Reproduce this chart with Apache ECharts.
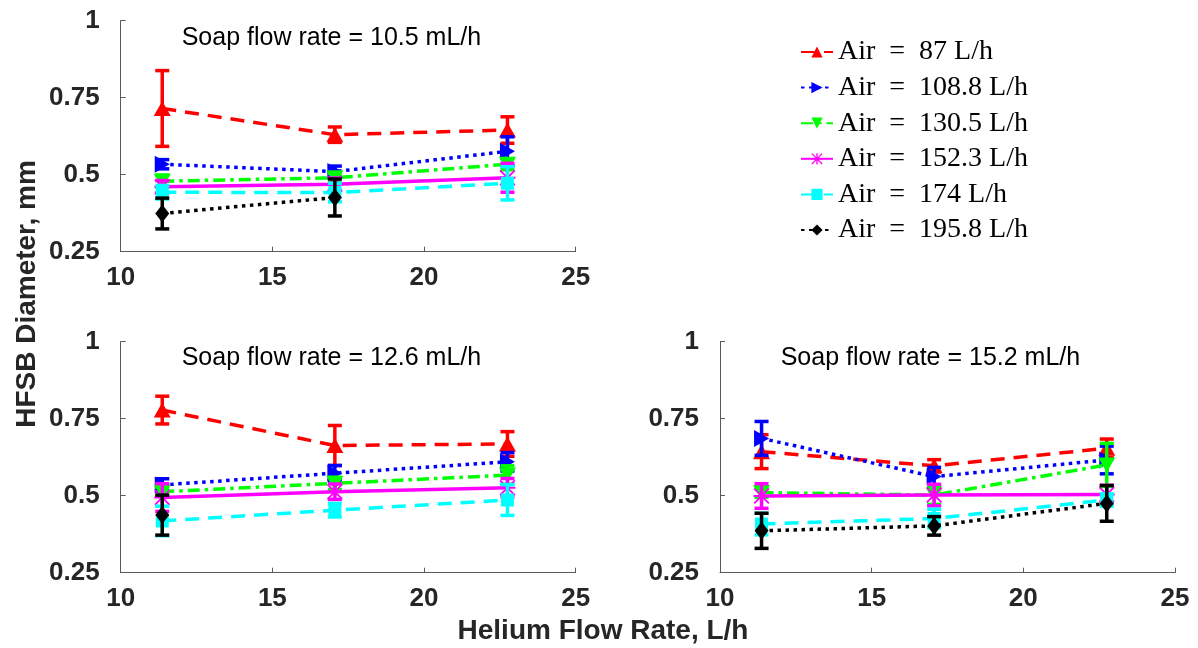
<!DOCTYPE html>
<html>
<head>
<meta charset="utf-8">
<script src="https://cdn.jsdelivr.net/npm/echarts@6/dist/echarts.min.js"></script>
<style>
  html, body { margin: 0; padding: 0; background: #fff; }
  #chart { width: 1198px; height: 648px; }
</style>
</head>
<body>
<div id="chart"></div>
<script>
// Helium flow rates (L/h) at which bubbles were measured
const helium = [11.37, 17.06, 22.75];

// Air flow rate of each series
const airRates = [
  'Air = 87 L/h',
  'Air = 108.8 L/h',
  'Air = 130.5 L/h',
  'Air = 152.3 L/h',
  'Air = 174 L/h',
  'Air = 195.8 L/h'
];

// One panel per soap flow rate
const soapRates = [
  'Soap flow rate = 10.5 mL/h',
  'Soap flow rate = 12.6 mL/h',
  'Soap flow rate = 15.2 mL/h'
];

// Mean HFSB diameter (mm), rows follow airRates, columns follow helium
const mean105 = [
  [0.715, 0.630, 0.645],
  [0.534, 0.510, 0.576],
  [0.479, 0.490, 0.534],
  [0.461, 0.469, 0.490],
  [0.443, 0.442, 0.472],
  [0.374, 0.426, null]
];
const err105 = [
  [0.123, 0.025, 0.043],
  [0.015, 0.018, 0.047],
  [0.020, 0.015, 0.018],
  [0.020, 0.020, 0.047],
  [0.022, 0.030, 0.054],
  [0.050, 0.060, null]
];

const mean126 = [
  [0.778, 0.663, 0.668],
  [0.535, 0.573, 0.610],
  [0.513, 0.540, 0.567],
  [0.494, 0.513, 0.526],
  [0.418, 0.453, 0.486],
  [0.437, null, null]
];
const err126 = [
  [0.045, 0.065, 0.040],
  [0.020, 0.025, 0.030],
  [0.015, 0.020, 0.030],
  [0.045, 0.025, 0.030],
  [0.048, 0.022, 0.050],
  [0.065, null, null]
];

const mean152 = [
  [0.643, 0.597, 0.654],
  [0.686, 0.562, 0.616],
  [0.510, 0.502, 0.600],
  [0.499, 0.502, 0.504],
  [0.408, 0.426, 0.486],
  [0.386, 0.402, 0.475]
];
const err152 = [
  [0.055, 0.020, 0.030],
  [0.055, 0.030, 0.045],
  [0.015, 0.030, 0.070],
  [0.040, 0.035, 0.030],
  [0.035, 0.030, 0.020],
  [0.057, 0.030, 0.058]
];

const panelMeans = [mean105, mean126, mean152];
const panelErrs = [err105, err126, err152];

// Axis ranges
const xMin = 10, xMax = 25, xStep = 5;
const yMin = 0.25, yMax = 1, yStep = 0.25;

// Marker and line style of each air flow rate
const asterisk = 'path://M4.4,0H5.6V10H4.4Z M0,4.4H10V5.6H0Z M0.8,0L10,9.2L9.2,10L0,0.8Z M9.2,0L10,0.8L0.8,10L0,9.2Z';
const looks = [
  { color: '#ff0000', symbol: 'triangle', rotate: 0,   size: [17, 15], dash: [14, 9] },
  { color: '#0000ff', symbol: 'triangle', rotate: -90, size: [17, 15], dash: [3.5, 4.5] },
  { color: '#00ff00', symbol: 'triangle', rotate: 180, size: [17, 15], dash: [12, 5, 3.5, 5] },
  { color: '#ff00ff', symbol: asterisk,   rotate: 0,   size: 16,       dash: 'solid' },
  { color: '#00ffff', symbol: 'rect',     rotate: 0,   size: 13,       dash: [14, 9] },
  { color: '#000000', symbol: 'diamond',  rotate: 0,   size: [14, 18], dash: [3.5, 4.5] }
];

const grids = [
  { left: 120.7, top: 20.7,  width: 455, height: 231 },
  { left: 120.7, top: 341.7, width: 455, height: 231 },
  { left: 720,   top: 341.7, width: 455, height: 231 }
];

const axisColor = '#5a5a5a';
const labelFont = { fontFamily: 'Liberation Sans', fontWeight: 'bold', fontSize: 26, color: '#262626' };

const xAxes = grids.map((g, i) => ({
  type: 'value', gridIndex: i, min: xMin, max: xMax, interval: xStep,
  axisLine: { show: true, lineStyle: { color: axisColor, width: 1 } },
  axisTick: { show: true, inside: true, length: 5, lineStyle: { color: axisColor } },
  axisLabel: Object.assign({ margin: 13 }, labelFont),
  splitLine: { show: false }
}));
const yAxes = grids.map((g, i) => ({
  type: 'value', gridIndex: i, min: yMin, max: yMax, interval: yStep,
  axisLine: { show: true, lineStyle: { color: axisColor, width: 1 } },
  axisTick: { show: true, inside: true, length: 5, lineStyle: { color: axisColor } },
  axisLabel: Object.assign({ margin: 21 }, labelFont),
  splitLine: { show: false }
}));

function errorBarItem(params, api) {
  const x = api.value(0);
  const top = api.coord([x, api.value(2)]);
  const bot = api.coord([x, api.value(1)]);
  const half = 7;
  const style = { stroke: api.visual('color'), lineWidth: 3.5, fill: null };
  return {
    type: 'group',
    children: [
      { type: 'line', shape: { x1: top[0], y1: top[1], x2: bot[0], y2: bot[1] }, style: style },
      { type: 'line', shape: { x1: top[0] - half, y1: top[1], x2: top[0] + half, y2: top[1] }, style: style },
      { type: 'line', shape: { x1: bot[0] - half, y1: bot[1], x2: bot[0] + half, y2: bot[1] }, style: style }
    ]
  };
}

const lineSeries = [];
const barSeries = [];
panelMeans.forEach((means, p) => {
  const errs = panelErrs[p];
  airRates.forEach((name, s) => {
    const look = looks[s];
    const pts = [];
    const bars = [];
    helium.forEach((x, k) => {
      const m = means[s][k];
      if (m == null) return;
      pts.push([x, m]);
      bars.push([x, m - errs[s][k], m + errs[s][k]]);
    });
    lineSeries.push({
      type: 'line', name: name, xAxisIndex: p, yAxisIndex: p,
      data: pts, z: 3 + s * 2,
      symbol: look.symbol, symbolSize: look.size, symbolRotate: look.rotate,
      showAllSymbol: true,
      itemStyle: { color: look.color, opacity: 1 },
      lineStyle: { color: look.color, width: 3.5, type: look.dash },
      emphasis: { disabled: true },
      animation: false
    });
    barSeries.push({
      type: 'custom', name: name, xAxisIndex: p, yAxisIndex: p,
      data: bars, z: 2 + s * 2,
      encode: { x: 0, y: [1, 2] },
      itemStyle: { color: look.color },
      renderItem: errorBarItem,
      animation: false
    });
  });
});

const titleSpots = [[181.7, 38], [181.7, 358.3], [780.7, 358.3]];
const graphics = soapRates.map((t, i) => ({
  type: 'text', x: titleSpots[i][0], y: titleSpots[i][1],
  style: { text: t, fontFamily: 'Liberation Sans', fontSize: 25, fill: '#000', align: 'left', verticalAlign: 'middle' }
}));
graphics.push({
  type: 'text', x: 603, y: 631,
  style: { text: 'Helium Flow Rate, L/h', fontFamily: 'Liberation Sans', fontWeight: 'bold', fontSize: 28, fill: '#262626', align: 'center', verticalAlign: 'middle' }
});
graphics.push({
  type: 'text', x: 27, y: 294, rotation: Math.PI / 2,
  style: { text: 'HFSB Diameter, mm', fontFamily: 'Liberation Sans', fontWeight: 'bold', fontSize: 28, fill: '#262626', align: 'center', verticalAlign: 'middle' }
});

const chart = echarts.init(document.getElementById('chart'), null, { renderer: 'canvas' });
chart.setOption({
  animation: false,
  backgroundColor: '#fff',
  grid: grids,
  xAxis: xAxes,
  yAxis: yAxes,
  legend: {
    data: airRates, orient: 'vertical', left: 795, top: 33,
    itemWidth: 32, itemHeight: 14, itemGap: 7.6,
    selectedMode: false,
    lineStyle: { width: 2 },
    formatter: n => n.replace(' = ', '\u2002=\u2002'),
    textStyle: { fontFamily: 'Liberation Serif', fontSize: 28, lineHeight: 28, color: '#000' }
  },
  graphic: graphics,
  series: lineSeries.concat(barSeries)
});
</script>
</body>
</html>
